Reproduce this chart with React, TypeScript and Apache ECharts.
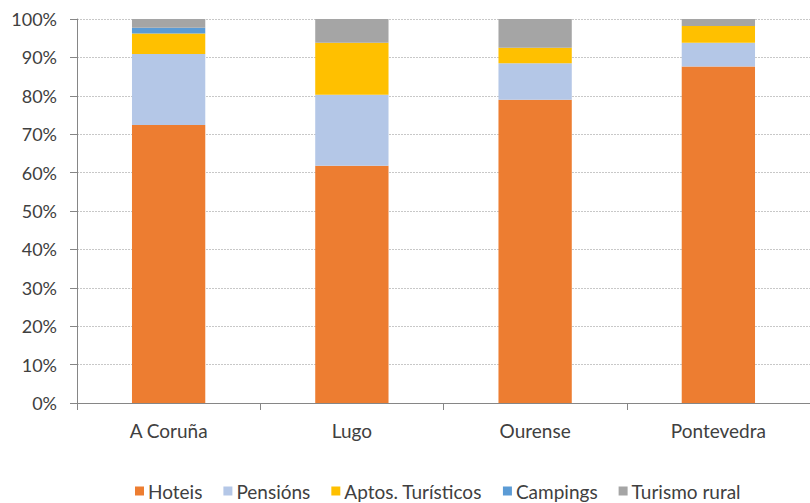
import React, { useEffect, useRef } from "react";
import * as echarts from "echarts";

const categories = ["A Coruña", "Lugo", "Ourense", "Pontevedra"];
const seriesNames = ["Hoteis", "Pensións", "Aptos. Turísticos", "Campings", "Turismo rural"];
const hoteis = [72.4, 61.8, 79.0, 87.6];
const pensions = [18.5, 18.5, 9.5, 6.2];
const aptos = [5.3, 13.5, 4.0, 4.4];
const campings = [1.5, 0, 0, 0];
const turismo = [2.3, 6.2, 7.5, 1.8];
const colors = ["#ED7D31", "#B4C7E7", "#FFC000", "#5B9BD5", "#A5A5A5"];

export default function App() {
  const ref = useRef<HTMLDivElement>(null);
  useEffect(() => {
    document.body.style.margin = "0";
    const chart = echarts.init(ref.current!, null, { renderer: "svg" });
    const font = "Lato";
    const values = [hoteis, pensions, aptos, campings, turismo];
    chart.setOption({
      animation: false,
      color: colors,
      textStyle: { fontFamily: font, color: "#404040" },
      grid: { left: 77, right: 0, top: 19, bottom: 100 },
      legend: {
        left: 135,
        top: 480,
        padding: 0,
        itemWidth: 9,
        itemHeight: 9,
        itemGap: 21,
        icon: "rect",
        textStyle: { fontFamily: font, fontSize: 19, color: "#404040", padding: [0, 0, 0, -1], lineHeight: 22 },
        data: seriesNames,
      },
      xAxis: {
        type: "category",
        data: categories,
        axisLine: { lineStyle: { color: "#868686", width: 1 } },
        axisTick: { show: true, length: 7, alignWithLabel: false, lineStyle: { color: "#868686" } },
        axisLabel: { fontFamily: font, fontSize: 19, color: "#404040", margin: 18 },
      },
      yAxis: {
        type: "value",
        min: 0,
        max: 100,
        interval: 10,
        axisLine: { show: true, lineStyle: { color: "#868686", width: 1 } },
        axisTick: { show: true, length: 7, inside: false, lineStyle: { color: "#868686" } },
        axisLabel: { formatter: "{value}%", fontFamily: font, fontSize: 18, color: "#404040", margin: 20 },
        splitLine: { show: true, lineStyle: { color: "#C8C8C8", type: [2, 1], width: 1 } },
      },
      series: seriesNames.map((name, i) => ({
        name,
        type: "bar",
        stack: "total",
        barWidth: "40%",
        data: values[i],
        itemStyle: { color: colors[i] },
      })),
    });
    return () => chart.dispose();
  }, []);
  return <div ref={ref} style={{ width: 810, height: 503 }} />;
}
